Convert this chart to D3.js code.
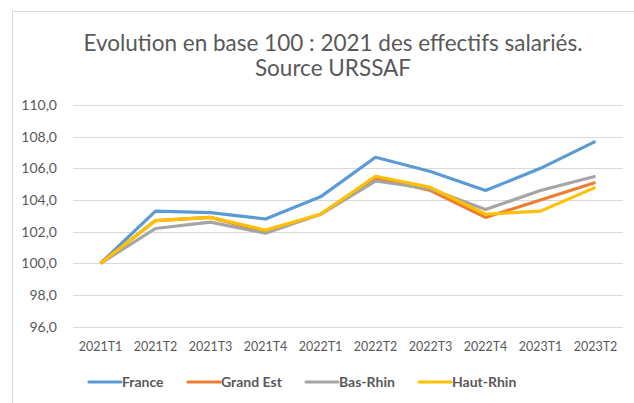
<!DOCTYPE html>
<html>
<head>
<meta charset="utf-8">
<script src="https://cdn.jsdelivr.net/npm/d3@7"></script>
<style>
  body { margin: 0; background: #fff; }
  svg text { font-family: Lato, "Open Sans", sans-serif; }
</style>
</head>
<body>
<div id="chart"></div>
<script>
var quarters = ['2021T1', '2021T2', '2021T3', '2021T4', '2022T1', '2022T2', '2022T3', '2022T4', '2023T1', '2023T2'];
var france   = [100, 103.3, 103.2, 102.8, 104.2, 106.7, 105.8, 104.6, 106.0, 107.7];
var grandEst = [100, 102.7, 102.9, 102.0, 103.1, 105.4, 104.6, 102.9, 104.0, 105.1];
var basRhin  = [100, 102.2, 102.6, 101.9, 103.1, 105.2, 104.7, 103.4, 104.6, 105.5];
var hautRhin = [100, 102.7, 102.9, 102.1, 103.1, 105.5, 104.8, 103.1, 103.3, 104.8];
var seriesNames = ['France', 'Grand Est', 'Bas-Rhin', 'Haut-Rhin'];
var yTicks = [96, 98, 100, 102, 104, 106, 108, 110];

var width = 634, height = 403;
var colors = ['#5B9BD5', '#ED7D31', '#A5A5A5', '#FFC000'];
var series = [france, grandEst, basRhin, hautRhin];

var svg = d3.select("#chart").append("svg")
    .attr("width", width)
    .attr("height", height);

// chart frame
svg.append("rect")
    .attr("x", 12.5).attr("y", 11.5)
    .attr("width", 640).attr("height", 420)
    .attr("fill", "#fff")
    .attr("stroke", "#D9D9D9");

var x = d3.scaleBand()
    .domain(quarters)
    .range([73, 623]);

var y = d3.scaleLinear()
    .domain([96, 110])
    .range([326.7, 105]);

// title
var title = svg.append("text")
    .attr("text-anchor", "middle")
    .attr("fill", "#595959")
    .style("font-size", "22.5px");
title.append("tspan").attr("x", 333).attr("y", 51)
    .text("Evolution en base 100 : 2021 des effectifs salariés.");
title.append("tspan").attr("x", 333).attr("y", 76)
    .text("Source URSSAF");

// gridlines
svg.append("g")
  .selectAll("line")
  .data(yTicks)
  .enter().append("line")
    .attr("x1", 73).attr("x2", 623)
    .attr("y1", function(d) { return Math.round(y(d)) + 0.5; })
    .attr("y2", function(d) { return Math.round(y(d)) + 0.5; })
    .attr("stroke", "#D9D9D9");

// y axis
var yAxis = svg.append("g")
    .attr("transform", "translate(60,0)")
    .call(d3.axisLeft(y).tickValues(yTicks).tickSize(0)
      .tickFormat(function(d) { return d3.format(".1f")(d).replace(".", ","); }));
yAxis.select(".domain").remove();
yAxis.selectAll("text")
    .attr("fill", "#595959")
    .style("font-size", "14px")
    .style("font-family", "Lato, sans-serif");

// x axis
var xAxis = svg.append("g")
    .attr("transform", "translate(0,339)")
    .call(d3.axisBottom(x).tickSize(0));
xAxis.select(".domain").remove();
xAxis.selectAll("text")
    .attr("fill", "#595959")
    .style("font-size", "12.5px")
    .style("font-family", "Lato, sans-serif");

// lines
var line = d3.line()
    .x(function(d, i) { return x(quarters[i]) + x.bandwidth() / 2; })
    .y(function(d) { return y(d); });

svg.append("g")
  .selectAll("path")
  .data(series)
  .enter().append("path")
    .attr("d", line)
    .attr("fill", "none")
    .attr("stroke", function(d, i) { return colors[i]; })
    .attr("stroke-width", 3.2)
    .attr("stroke-linejoin", "round");

// legend
var legendX = [89, 188, 306, 419];
var legend = svg.append("g")
  .selectAll("g")
  .data(seriesNames)
  .enter().append("g")
    .attr("transform", function(d, i) { return "translate(" + legendX[i] + ",382)"; });

legend.append("line")
    .attr("x1", 0).attr("x2", 32)
    .attr("stroke", function(d, i) { return colors[i]; })
    .attr("stroke-width", 3.2)
    .attr("stroke-linecap", "round");

legend.append("text")
    .attr("x", 33)
    .attr("dy", "0.35em")
    .attr("fill", "#595959")
    .style("font-size", "14px")
    .style("font-weight", "bold")
    .text(function(d) { return d; });
</script>
</body>
</html>
